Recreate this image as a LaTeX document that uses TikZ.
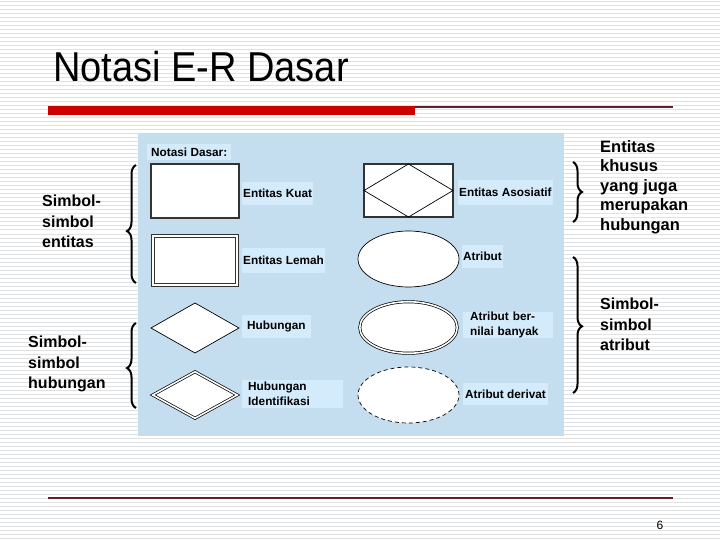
\documentclass[tikz,border=0pt]{standalone}
\usepackage{fontspec}
\setmainfont{Liberation Sans}
\usetikzlibrary{shapes.geometric}
\usetikzlibrary{decorations.pathreplacing}

\definecolor{stripe}{RGB}{224,225,227}
\definecolor{panelblue}{RGB}{197,222,239}
\definecolor{tagblue}{RGB}{212,235,251}
\definecolor{barred}{RGB}{204,0,0}
\definecolor{rulered}{RGB}{100,30,45}

\begin{document}
\begin{tikzpicture} [x=1pt, y=-1pt,
  shp/.style={draw, fill=white, inner sep=0pt, outer sep=0pt},
  ent/.style={shp, rectangle, draw=black!80, line width=1.2pt, minimum width=88pt, minimum height=54pt},
  rel/.style={shp, diamond, line width=0.7pt, minimum width=88pt, minimum height=50pt},
  atr/.style={shp, ellipse, line width=0.7pt, minimum width=101pt, minimum height=56pt},
  dbl/.style={double=white, double distance=1.6pt},
  tag/.style={fill=tagblue, anchor=west, inner ysep=0pt, minimum height=23pt, align=left,
    font=\fontsize{11.8}{15}\selectfont\bfseries},
  grp/.style={anchor=north west, inner sep=0pt, align=left, font=\fontsize{16}{20.5}\selectfont\bfseries},
  brc/.style={decorate, decoration={brace, amplitude=9pt}, line width=2pt}
]
\useasboundingbox (0,0) rectangle (720,540);
\fill[white] (0,0) rectangle (720,540);
\foreach \y in {2,6,...,538}
\draw[stripe, line width=1pt] (0,\y) -- (720,\y);

% judul
\node[anchor=base west, inner sep=0pt, font=\fontsize{38}{40}\selectfont, yscale=1.1] (judul) at (53,82) {Notasi E-R Dasar};
\fill[barred] (48,106) rectangle (415,115);
\draw[rulered, line width=1.5pt] (415,107) -- (673,107);
\draw[rulered, line width=1.5pt] (48,498) -- (673,498);
\node[inner sep=0pt, font=\fontsize{12}{12}\selectfont] (hal) at (660,525) {6};

% panel
\fill[panelblue] (138,133) rectangle (564,436);
\node[tag, inner xsep=4pt, minimum height=16pt] (dasar) at (147,152.5) {Notasi Dasar:};

\node[ent] (kuat) at (195,191) {};
\node[ent, dbl, line width=0.9pt, minimum width=84pt, minimum height=49pt] (lemah) at (195,260.5) {};
\node[rel] (hub) at (195,328) {};
\node[rel, dbl, minimum width=84.5pt, minimum height=46.5pt] (hubid) at (195,395) {};

\node[ent, minimum width=89pt, minimum height=53pt] (aso) at (408.5,190.5) {};
\draw[line width=0.7pt] (aso.north) -- (aso.east) -- (aso.south) -- (aso.west) -- cycle;
\node[atr] (atr) at (408.5,259) {};
\node[atr, dbl, minimum width=97.5pt, minimum height=51.5pt] (multi) at (408.5,327.5) {};
\node[atr, dashed, dash pattern=on 4pt off 3pt] (deriv) at (408.5,395) {};

\node[tag, inner xsep=1pt] (kuatlbl) at (242,193.5) {Entitas Kuat};
\node[tag, inner xsep=1pt, minimum height=25pt] (lemahlbl) at (242,260.5) {Entitas Lemah};
\node[tag, inner xsep=5pt] (hublbl) at (242,326.5) {Hubungan};
\node[tag, inner xsep=6pt, text width=89pt, minimum height=28pt] (hubidlbl) at (242,394) {Hubungan\\Identifikasi};
\node[tag, inner xsep=1pt, minimum height=25pt] (asolbl) at (458,192.5) {Entitas Asosiatif};
\node[tag, inner xsep=1pt] (atrlbl) at (462,256.5) {Atribut};
\node[tag, inner xsep=7pt, text width=76pt, minimum height=25pt] (multilbl) at (463,325) {Atribut ber-\\nilai banyak};
\node[tag, inner xsep=2pt, minimum height=22pt] (derivlbl) at (463,394) {Atribut derivat};

% kelompok
\node[grp] (grpent) at (42,195) {Simbol-\\simbol\\entitas};
\node[grp] (grphub) at (28,336) {Simbol-\\simbol\\hubungan};
\node[grp, font=\fontsize{16.5}{19.5}\selectfont\bfseries] (grpaso) at (600,140) {Entitas\\khusus\\yang juga\\merupakan\\hubungan};
\node[grp] (grpatr) at (600,298) {Simbol-\\simbol\\atribut};

\draw[brc, decoration={aspect=0.44}] (136,283) -- (136,165);
\draw[brc, decoration={aspect=0.47}] (136,408) -- (136,323);
\draw[brc] (573,162) -- (573,222);
\draw[brc, decoration={aspect=0.51}] (573,257) -- (573,393);

\end{tikzpicture}
\end{document}
